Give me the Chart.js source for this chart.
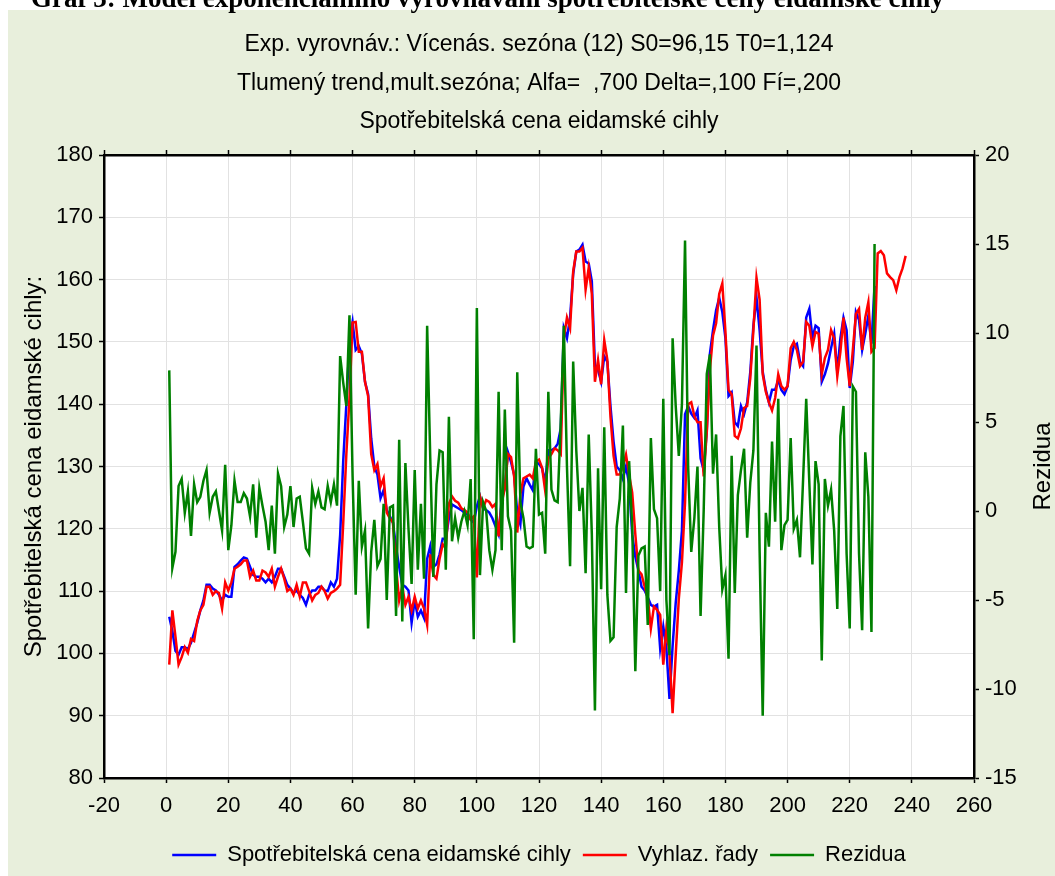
<!DOCTYPE html>
<html>
<head>
<meta charset="utf-8">
<title>Spotřebitelská cena eidamské cihly</title>
<script src="https://cdn.jsdelivr.net/npm/chart.js@4.4.1/dist/chart.umd.min.js"></script>
<style>
  html, body { margin: 0; padding: 0; background: #fff; overflow: hidden; }
  #wrap { position: relative; width: 1055px; height: 876px; }
  canvas { position: absolute; left: 0; top: 0; }
  #cap {
    position: absolute; left: 0; top: -13px; width: 975px; text-align: center;
    font: bold 27px "Liberation Serif", "Times New Roman", serif; line-height: 22px;
    white-space: nowrap; color: #000;
  }
</style>
</head>
<body>
<div id="wrap">
  <canvas id="chart" width="1055" height="876"></canvas>
  <div id="cap">Graf 3: Model exponenciálního vyrovnávání spotřebitelské ceny eidamské cihly</div>
</div>
<script>
// Chart texts
const titleLines = [
  'Exp. vyrovnáv.: Vícenás. sezóna (12) S0=96,15 T0=1,124',
  'Tlumený trend,mult.sezóna; Alfa=  ,700 Delta=,100 Fí=,200',
  'Spotřebitelská cena eidamské cihly'
];
const leftAxisTitle = 'Spotřebitelská cena eidamské cihly:';
const rightAxisTitle = 'Rezidua';
const seriesNames = ['Spotřebitelská cena eidamské cihly', 'Vyhlaz. řady', 'Rezidua'];

// Axis ranges and tick steps
const xTicks = { min: -20, max: 260, step: 20 };
const priceTicks = { min: 80, max: 180, step: 10 };
const residualTicks = { min: -15, max: 20, step: 5 };

// Observed consumer price, periods 1..228
const observed = [
  105.9,103.6,100.4,99.8,101.0,101.0,100.7,101.7,103.3,104.9,
  106.9,108.5,111.0,111.0,110.4,110.1,109.4,108.5,109.4,109.1,
  109.1,113.9,114.3,114.9,115.4,115.2,113.9,112.6,112.3,112.3,
  112.0,111.4,112.0,111.4,112.3,113.6,113.6,112.3,111.0,110.4,
  109.7,110.1,109.4,108.9,107.8,109.4,110.1,110.1,110.7,110.7,
  110.1,110.0,111.4,110.7,112.0,119.0,131.0,140.0,150.0,153.2,
  148.7,149.3,148.1,143.6,141.6,134.5,130.0,128.7,124.9,126.2,
  123.0,122.0,121.0,117.0,113.9,111.0,110.7,110.1,104.9,108.5,
  105.9,106.9,105.7,115.2,117.2,113.9,114.3,115.9,118.4,118.4,
  121.7,123.9,123.6,123.3,123.0,122.6,122.3,121.5,121.0,123.6,
  125.2,123.3,123.0,122.6,121.7,120.4,119.1,124.9,126.5,132.3,
  130.7,128.7,122.6,120.7,126.8,128.1,127.1,126.2,130.7,130.4,
  129.7,127.5,132.6,132.6,132.9,133.6,136.1,152.2,150.6,153.9,
  160.9,164.5,164.8,165.6,162.9,162.6,159.7,146.1,145.5,143.6,
  147.7,146.8,139.7,134.0,130.0,129.4,128.0,130.0,127.2,119.1,
  115.5,113.3,110.7,110.1,109.0,107.8,107.5,107.8,100.8,104.3,
  100.8,92.7,101.2,108.1,113.3,119.7,138.4,139.7,138.5,137.8,
  139.0,131.3,129.4,135.8,148.1,151.9,155.1,157.1,154.8,150.6,
  141.3,141.9,137.1,136.5,139.7,138.4,140.3,145.2,152.6,157.1,
  151.9,145.2,142.3,140.3,142.3,142.3,143.9,142.3,141.6,142.9,
  147.1,149.3,149.7,146.8,146.1,153.9,155.3,150.6,152.6,152.2,
  143.6,144.8,146.5,149.0,151.3,145.2,150.6,153.9,151.9,142.6,
  146.8,154.8,153.5,148.7,151.3,154.2,149.7,159.0
];

// Smoothed series incl. forecast, periods 1..238
const smoothed = [
  98.2,106.9,102.7,98.2,99.4,101.0,100.1,102.3,102.0,105.2,
  106.9,107.8,110.7,110.7,109.4,110.0,109.7,107.2,111.4,110.1,
  111.4,113.6,113.9,114.3,114.9,114.9,112.3,113.3,111.7,111.7,
  113.3,113.0,112.3,113.6,110.7,112.3,113.6,112.0,110.0,110.4,
  109.4,111.0,109.1,111.4,111.4,110.0,108.5,109.4,109.7,110.7,
  110.0,108.8,109.7,110.0,110.4,111.0,121.0,132.0,141.0,153.1,
  153.2,148.4,148.4,143.6,141.3,132.0,129.4,130.4,126.8,128.1,
  122.6,121.7,121.0,113.9,108.5,110.7,107.8,109.1,106.9,109.1,
  107.2,108.5,107.2,104.6,115.9,112.6,112.0,115.2,117.5,116.9,
  124.0,125.2,124.5,124.2,123.3,123.0,122.6,121.5,122.0,112.2,
  125.2,123.3,124.6,124.3,123.5,124.0,118.8,124.2,126.5,132.0,
  131.5,128.4,119.4,125.5,128.1,128.4,128.7,128.1,130.8,131.1,
  129.8,126.1,131.3,132.0,132.9,132.6,132.0,150.6,153.9,152.2,
  161.3,164.5,164.5,165.1,158.4,161.9,157.7,143.6,147.1,143.2,
  150.3,147.1,138.0,131.7,128.7,128.7,130.0,131.9,128.7,125.8,
  119.1,113.3,112.7,110.7,109.0,104.0,107.5,107.0,106.2,98.2,
  104.0,99.8,90.4,99.8,108.8,114.6,124.2,140.0,140.3,138.1,
  137.1,137.1,128.4,135.5,145.5,151.0,153.0,157.7,159.4,151.6,
  142.3,141.6,134.9,134.5,136.1,139.4,139.7,144.2,151.9,160.3,
  156.8,144.8,142.0,140.3,139.0,141.0,144.8,142.9,142.3,142.9,
  149.0,150.0,148.7,146.1,146.8,153.2,152.6,149.3,151.6,151.3,
  144.8,147.4,148.7,151.9,150.6,144.5,148.4,153.9,147.4,142.9,
  148.7,154.5,155.3,148.7,153.9,156.4,148.4,149.0,164.2,164.6,
  163.9,161.0,160.4,159.9,158.3,160.4,161.8,163.8
];

// Residuals, periods 1..228 (right axis)
const residuals = [
  7.9,-3.2,-2.3,1.4,1.8,-0.1,1.1,-1.4,1.5,0.5,
  0.8,1.7,2.3,-0.1,0.8,1.1,0.0,-1.1,2.6,-2.2,
  -0.8,1.7,0.5,0.5,1.0,0.7,-0.3,1.5,-1.5,1.3,
  0.3,-0.6,-2.2,0.3,-2.4,2.1,1.4,-0.9,-0.2,1.4,
  -0.9,0.7,0.8,-0.6,-2.1,-2.4,1.3,0.4,1.1,0.2,
  0.1,1.4,0.5,1.5,0.3,8.7,7.2,5.9,11.0,2.0,
  -4.7,1.7,-2.0,-1.1,-6.6,-2.3,-0.5,-3.1,-2.7,0.4,
  -5.0,0.2,0.3,-5.9,4.0,-6.2,2.7,-1.0,-4.1,2.3,
  -3.3,0.4,-3.8,10.4,3.0,-3.7,1.5,3.4,3.3,-3.3,
  5.3,-1.7,-0.4,-1.5,-0.6,0.0,-0.8,1.8,-7.2,11.4,
  -3.6,0.5,0.0,-2.2,-3.3,-2.2,6.7,-2.2,5.7,-0.3,
  -1.1,-7.4,7.8,0.5,-0.4,-2.0,-2.1,-2.0,3.5,-0.2,
  -0.1,-2.4,6.7,1.2,0.6,0.5,5.0,10.4,2.5,-3.1,
  8.4,3.4,0.0,1.3,-3.5,4.3,-1.3,-11.2,2.4,-4.4,
  4.7,-4.7,-7.3,-7.1,-0.9,0.7,4.8,-4.6,2.8,-0.9,
  -9.0,-2.5,-2.1,-2.0,-6.4,4.1,0.1,-0.4,-4.5,6.3,
  -5.0,-8.1,9.7,5.9,3.1,6.0,15.2,2.5,-2.3,-0.4,
  2.5,-5.9,0.0,7.7,8.8,2.1,4.3,-0.9,-4.4,-3.6,
  -8.3,3.1,-4.6,0.9,2.3,3.5,-1.5,1.6,3.4,9.3,
  -2.2,-11.5,-0.1,-2.0,3.9,-0.6,6.3,-2.2,-0.8,-0.5,
  4.1,-1.0,-0.5,-2.6,1.8,6.3,1.6,-3.0,2.8,1.5,
  -8.4,1.8,0.3,1.2,-1.1,-5.5,4.2,5.9,-2.4,-6.6,
  7.0,6.7,-2.4,-6.7,3.3,0.8,-6.8,15.0
];

// Period numbers used as x positions (1, 2, 3, ...)
const periods = smoothed.map((_, i) => i + 1);

const FONT = '"Liberation Sans", Arial, Helvetica, sans-serif';
Chart.defaults.font.family = FONT;
Chart.defaults.color = '#000';

const PANEL = '#E8EFDC';
const GRID = '#E2E2E2';
const AXIS_W = 2.5;

// Page panel, white plot area
const panelPlugin = {
  id: 'panel',
  beforeDraw(chart) {
    const { ctx, chartArea: a } = chart;
    ctx.save();
    ctx.fillStyle = '#fff';
    ctx.fillRect(0, 0, chart.width, chart.height);
    ctx.fillStyle = PANEL;
    ctx.fillRect(8, 10, chart.width - 8, chart.height - 10);
    ctx.fillStyle = '#fff';
    ctx.fillRect(a.left, a.top, a.right - a.left, a.bottom - a.top);
    ctx.restore();
  }
};

// Right axis caption, reading bottom to top
const rightTitlePlugin = {
  id: 'rightTitle',
  afterDraw(chart) {
    const { ctx, chartArea: a } = chart;
    ctx.save();
    ctx.translate(1043, (a.top + a.bottom) / 2);
    ctx.rotate(-Math.PI / 2);
    ctx.font = '24px ' + FONT;
    ctx.fillStyle = '#000';
    ctx.textAlign = 'center';
    ctx.textBaseline = 'middle';
    ctx.fillText(rightAxisTitle, 0, 0);
    ctx.restore();
  }
};

const tickFont = { size: 22 };

new Chart(document.getElementById('chart'), {
  type: 'line',
  data: {
    labels: periods,
    datasets: [
      { label: seriesNames[0], data: observed, borderColor: '#0000FF', backgroundColor: '#0000FF',
        borderWidth: 2.5, pointRadius: 0, tension: 0, yAxisID: 'y', xAxisID: 'x', order: 3 },
      { label: seriesNames[1], data: smoothed, borderColor: '#FF0000', backgroundColor: '#FF0000',
        borderWidth: 2.5, pointRadius: 0, tension: 0, yAxisID: 'y', xAxisID: 'x', order: 2 },
      { label: seriesNames[2], data: residuals, borderColor: '#008000', backgroundColor: '#008000',
        borderWidth: 2.5, pointRadius: 0, tension: 0, yAxisID: 'y1', xAxisID: 'x', order: 1 }
    ]
  },
  options: {
    responsive: false,
    animation: false,
    devicePixelRatio: 1,
    events: [],
    layout: { padding: 0 },
    plugins: {
      tooltip: { enabled: false },
      title: {
        display: true,
        fullSize: false,
        text: titleLines,
        font: { size: 23, weight: 'normal', lineHeight: 38.5 / 23 },
        color: '#000',
        padding: { top: 25.75, bottom: 0 }
      },
      legend: {
        position: 'bottom',
        fullSize: false,
        labels: {
          usePointStyle: true,
          pointStyle: 'line',
          pointStyleWidth: 44,
          font: { size: 22 },
          color: '#000',
          padding: 12,
          sort: (a, b) => a.datasetIndex - b.datasetIndex
        }
      }
    },
    scales: {
      x: {
        type: 'linear',
        position: 'bottom',
        min: xTicks.min, max: xTicks.max,
        ticks: { stepSize: xTicks.step, font: tickFont, padding: 10, maxRotation: 0, autoSkip: false },
        grid: { color: GRID, lineWidth: 1, tickColor: '#000', tickLength: 5, tickWidth: 1.5 },
        border: { color: '#000', width: AXIS_W },
        afterFit(s) { s.height = 54; }
      },
      xTop: {
        type: 'linear',
        position: 'top',
        min: xTicks.min, max: xTicks.max,
        ticks: { stepSize: xTicks.step, display: false },
        grid: { drawOnChartArea: false, tickColor: '#000', tickLength: 5, tickWidth: 1.5 },
        border: { color: '#000', width: AXIS_W },
        afterFit(s) { s.height = 13.75; }
      },
      y: {
        type: 'linear',
        position: 'left',
        min: priceTicks.min, max: priceTicks.max,
        ticks: { stepSize: priceTicks.step, font: tickFont, padding: 6 },
        grid: { color: GRID, lineWidth: 1, tickColor: '#000', tickLength: 5, tickWidth: 1.5 },
        border: { color: '#000', width: AXIS_W },
        title: { display: true, text: leftAxisTitle, font: { size: 24 }, color: '#000', padding: { top: 20, bottom: 0 } },
        afterFit(s) { s.width = 104; }
      },
      y1: {
        type: 'linear',
        position: 'right',
        min: residualTicks.min, max: residualTicks.max,
        ticks: { stepSize: residualTicks.step, font: tickFont, padding: 6 },
        grid: { drawOnChartArea: false, tickColor: '#000', tickLength: 5, tickWidth: 1.5 },
        border: { color: '#000', width: AXIS_W },
        afterFit(s) { s.width = 81; }
      }
    }
  },
  plugins: [panelPlugin, rightTitlePlugin]
});
</script>
</body>
</html>
